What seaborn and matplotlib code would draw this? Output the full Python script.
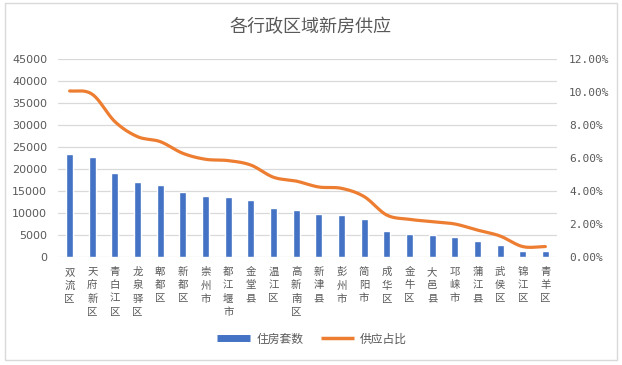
import numpy as np
import pandas as pd
import matplotlib
matplotlib.use("Agg")
import matplotlib.pyplot as plt
from matplotlib.lines import Line2D
from matplotlib.patches import Rectangle
import seaborn as sns

districts = ["双流区", "天府新区", "青白江区", "龙泉驿区", "郫都区", "新都区", "崇州市",
             "都江堰市", "金堂县", "温江区", "高新南区", "新津县", "彭州市", "简阳市",
             "成华区", "金牛区", "大邑县", "邛崃市", "蒲江县", "武侯区", "锦江区", "青羊区"]
units = [23500, 22800, 19200, 17100, 16400, 14900, 14000, 13700, 13000, 11300, 10800,
         9900, 9700, 8700, 6000, 5400, 5150, 4700, 3800, 2800, 1500, 1500]
share = [10.08, 9.88, 8.22, 7.31, 7.01, 6.30, 5.94, 5.86, 5.59, 4.85, 4.62,
         4.26, 4.18, 3.68, 2.56, 2.30, 2.16, 2.02, 1.65, 1.29, 0.65, 0.65]
left_ticks = [0, 5000, 10000, 15000, 20000, 25000, 30000, 35000, 40000, 45000]
right_ticks = [0, 2, 4, 6, 8, 10, 12]
title = "各行政区域新房供应"
legend_labels = ["住房套数", "供应占比"]

BLUE = "#4472C4"
ORANGE = "#ED7D31"
TXT = "#595959"
GRID = "#D9D9D9"

sns.set_theme(style="white")
plt.rcParams['font.family'] = ['Noto Sans CJK SC', 'DejaVu Sans']

W, H = 622, 365
fig = plt.figure(figsize=(W / 100, H / 100), dpi=100)
fig.patch.set_facecolor("white")
# chart border
fig.add_artist(Rectangle((5 / W, 1 - 360 / H), (617 - 5) / W, (360 - 3) / H,
                         transform=fig.transFigure, fill=False, edgecolor=GRID, lw=1))

x0, x1, ytop, ybot = 58.3, 556.7, 59.3, 257.3
ax = fig.add_axes([x0 / W, 1 - ybot / H, (x1 - x0) / W, (ybot - ytop) / H])

df = pd.DataFrame({"district": districts, "units": units})
sns.barplot(data=df, x="district", y="units", color=BLUE, width=0.31, saturation=1,
            ax=ax, zorder=3)
ax.set_xlim(-0.5, len(districts) - 0.5)
ax.set_ylim(0, 45000)
ax.set_yticks(left_ticks)
ax.set_yticklabels([str(t) for t in left_ticks], fontsize=8, color=TXT, family="DejaVu Sans")
ax.set_xticks(range(len(districts)))
ax.set_xticklabels(["\n".join(d) for d in districts], fontsize=7.5, color=TXT,
                   va="top", linespacing=1.4)
ax.tick_params(axis="x", length=0, pad=7)
ax.tick_params(axis="y", length=0, pad=8)
ax.set_xlabel("")
ax.set_ylabel("")
for t in left_ticks:
    ax.axhline(t, color=GRID, lw=0.9, zorder=0)
for s in ax.spines.values():
    s.set_visible(False)

# smoothed line (Catmull-Rom through the data points, for rendering only)
pts = np.array(share, dtype=float)
xs_all, ys_all = [], []
n = len(pts)
for i in range(n - 1):
    p0 = pts[i - 1] if i > 0 else pts[i]
    p1, p2 = pts[i], pts[i + 1]
    p3 = pts[i + 2] if i + 2 < n else pts[i + 1]
    t = np.linspace(0, 1, 20, endpoint=(i == n - 2))
    y = 0.5 * ((2 * p1) + (-p0 + p2) * t + (2 * p0 - 5 * p1 + 4 * p2 - p3) * t ** 2
               + (-p0 + 3 * p1 - 3 * p2 + p3) * t ** 3)
    xs_all.append(i + t)
    ys_all.append(y)
xs = np.concatenate(xs_all)
ys = np.concatenate(ys_all)

ax2 = ax.twinx()
sns.lineplot(x=xs, y=ys, ax=ax2, color=ORANGE, lw=2.3, sort=False, zorder=4)
ax2.set_ylim(0, 12)
ax2.set_yticks(right_ticks)
ax2.set_yticklabels([f"{t:.2f}%" for t in right_ticks], fontsize=8, color=TXT,
                    family="DejaVu Sans Mono")
ax2.tick_params(axis="y", length=0, pad=9)
ax2.set_xlim(-0.5, len(districts) - 0.5)
for s in ax2.spines.values():
    s.set_visible(False)

fig.text(311 / W, 1 - 27 / H, title, ha="center", va="center", fontsize=13, color=TXT)

handles = [Line2D([], [], color=BLUE, lw=5, solid_capstyle="butt"),
           Line2D([], [], color=ORANGE, lw=2.5, solid_capstyle="butt")]
fig.legend(handles, legend_labels, loc="center", bbox_to_anchor=(312 / W, 1 - 339 / H),
           ncol=2, frameon=False, fontsize=8.5, labelcolor=TXT, handlelength=2.8,
           handletextpad=0.5, columnspacing=1.5)

fig.savefig("out.png", dpi=100, facecolor="white")
